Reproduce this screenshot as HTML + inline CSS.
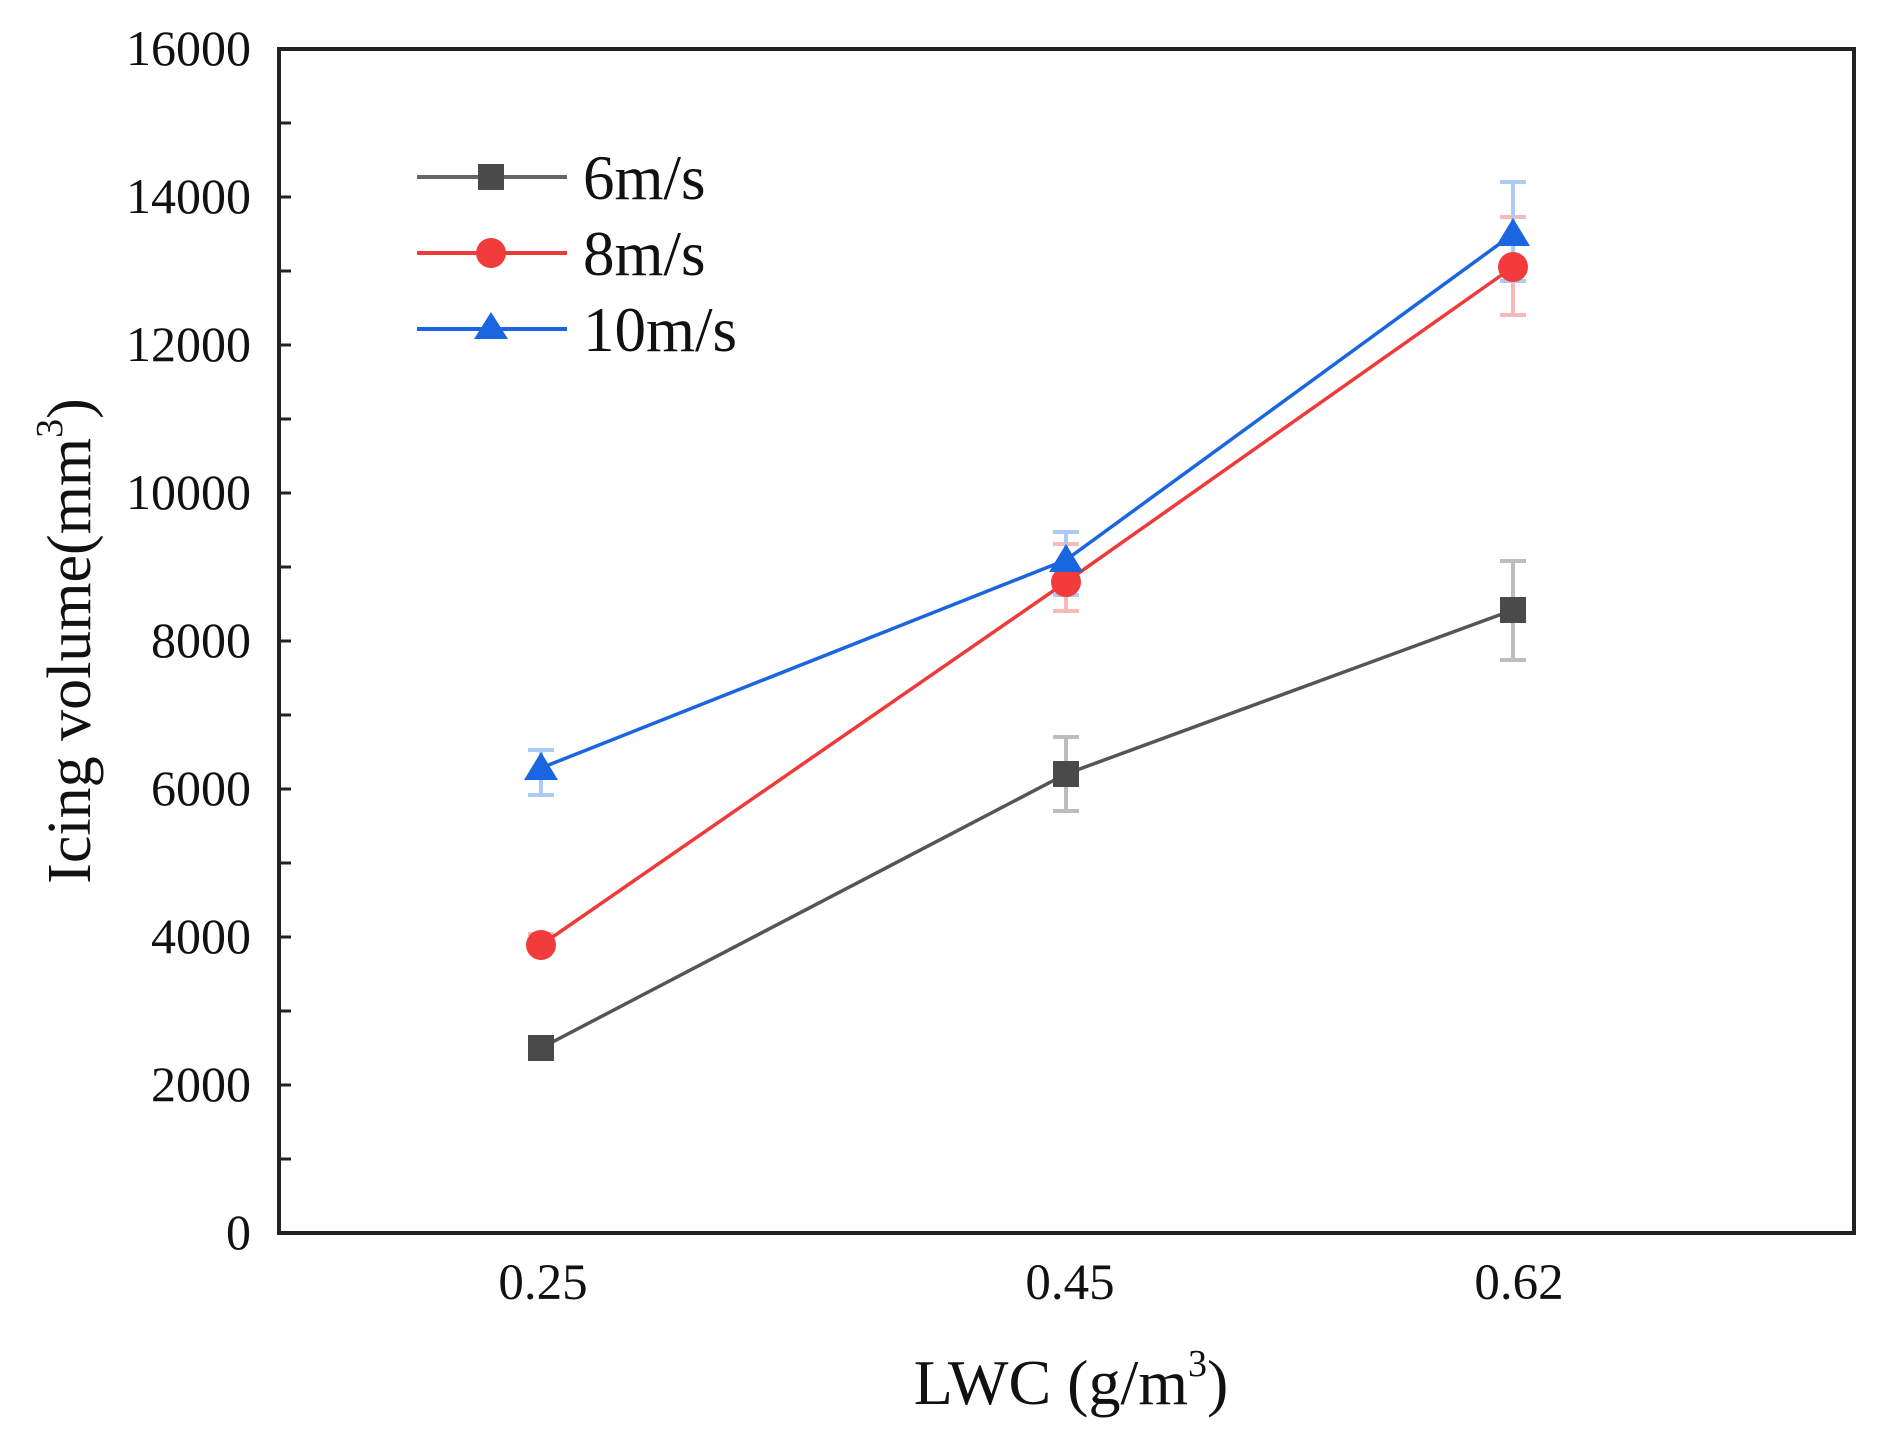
<!DOCTYPE html>
<html><head><meta charset="utf-8"><style>html,body{margin:0;padding:0;background:#fff}svg{display:block}</style></head>
<body>
<svg width="1894" height="1445" viewBox="0 0 1894 1445" xmlns="http://www.w3.org/2000/svg" font-family="Liberation Serif, serif">
<rect width="1894" height="1445" fill="#fff"/>
<rect x="279" y="49" width="1575" height="1184" fill="none" stroke="#222" stroke-width="4"/>
<g stroke="#222" stroke-width="3">
<line x1="279" y1="123" x2="291" y2="123"/><line x1="279" y1="197" x2="291" y2="197"/>
<line x1="279" y1="271" x2="291" y2="271"/><line x1="279" y1="345" x2="291" y2="345"/>
<line x1="279" y1="419" x2="291" y2="419"/><line x1="279" y1="493" x2="291" y2="493"/>
<line x1="279" y1="567" x2="291" y2="567"/><line x1="279" y1="641" x2="291" y2="641"/>
<line x1="279" y1="715" x2="291" y2="715"/><line x1="279" y1="789" x2="291" y2="789"/>
<line x1="279" y1="863" x2="291" y2="863"/><line x1="279" y1="937" x2="291" y2="937"/>
<line x1="279" y1="1011" x2="291" y2="1011"/><line x1="279" y1="1085" x2="291" y2="1085"/>
<line x1="279" y1="1159" x2="291" y2="1159"/>
</g>
<g font-size="50" fill="#111" text-anchor="end">
<text x="251" y="65">16000</text>
<text x="251" y="213">14000</text>
<text x="251" y="361">12000</text>
<text x="251" y="509">10000</text>
<text x="251" y="657">8000</text>
<text x="251" y="805">6000</text>
<text x="251" y="953">4000</text>
<text x="251" y="1101">2000</text>
<text x="251" y="1249">0</text>
</g>
<g font-size="51" fill="#111" text-anchor="middle">
<text x="543" y="1299">0.25</text>
<text x="1070" y="1299">0.45</text>
<text x="1519" y="1299">0.62</text>
</g>
<text x="1071" y="1404" font-size="64" text-anchor="middle" fill="#111">LWC (g/m<tspan font-size="38" dy="-28">3</tspan><tspan dy="28">)</tspan></text>
<text transform="translate(90,641) rotate(-90)" font-size="62" text-anchor="middle" fill="#111">Icing volume(mm<tspan font-size="38" dy="-28">3</tspan><tspan dy="28">)</tspan></text>
<g stroke-width="4" opacity="0.35">
<g stroke="#444">
<line x1="541" y1="1041" x2="541" y2="1055"/>
<line x1="1066" y1="737" x2="1066" y2="811"/><line x1="1053" y1="737" x2="1079" y2="737"/><line x1="1053" y1="811" x2="1079" y2="811"/>
<line x1="1513" y1="561" x2="1513" y2="660"/><line x1="1500" y1="561" x2="1526" y2="561"/><line x1="1500" y1="660" x2="1526" y2="660"/>
</g>
<g stroke="#f03a3a">
<line x1="541" y1="934" x2="541" y2="956"/><line x1="528" y1="934" x2="554" y2="934"/>
<line x1="1066" y1="544" x2="1066" y2="611"/><line x1="1053" y1="544" x2="1079" y2="544"/><line x1="1053" y1="611" x2="1079" y2="611"/>
<line x1="1513" y1="217" x2="1513" y2="315"/><line x1="1500" y1="217" x2="1526" y2="217"/><line x1="1500" y1="315" x2="1526" y2="315"/>
</g>
<g stroke="#1a66e0">
<line x1="541" y1="750" x2="541" y2="795"/><line x1="528" y1="750" x2="554" y2="750"/><line x1="528" y1="795" x2="554" y2="795"/>
<line x1="1066" y1="532" x2="1066" y2="595"/><line x1="1053" y1="532" x2="1079" y2="532"/><line x1="1053" y1="595" x2="1079" y2="595"/>
<line x1="1513" y1="182" x2="1513" y2="281"/><line x1="1500" y1="182" x2="1526" y2="182"/><line x1="1500" y1="281" x2="1526" y2="281"/>
</g>
</g>
<polyline points="541,1048 1066,774 1513,610" fill="none" stroke="#555" stroke-width="3.5"/>
<polyline points="541,945 1066,582 1513,267" fill="none" stroke="#f03a3a" stroke-width="3.5"/>
<polyline points="541,768 1066,560 1513,234" fill="none" stroke="#1a66e0" stroke-width="3.5"/>
<g fill="#4a4a4a">
<rect x="528" y="1035" width="26" height="26"/>
<rect x="1053" y="761" width="26" height="26"/>
<rect x="1500" y="597" width="26" height="26"/>
</g>
<g fill="#f23c3c">
<circle cx="541" cy="945" r="15"/><circle cx="1066" cy="582" r="15"/><circle cx="1513" cy="267" r="15"/>
</g>
<g fill="#1a66e0">
<polygon points="541,752 558,780 524,780"/>
<polygon points="1066,544 1083,572 1049,572"/>
<polygon points="1513,218 1530,246 1496,246"/>
</g>
<line x1="417" y1="177" x2="567" y2="177" stroke="#666" stroke-width="4"/>
<rect x="478" y="164" width="26" height="26" fill="#4a4a4a"/>
<line x1="417" y1="253" x2="567" y2="253" stroke="#f03a3a" stroke-width="4"/>
<circle cx="491" cy="253" r="15" fill="#f23c3c"/>
<line x1="417" y1="329" x2="567" y2="329" stroke="#1a66e0" stroke-width="4"/>
<polygon points="491,312 508,339 474,339" fill="#1a66e0"/>
<g font-size="63" fill="#111">
<text x="583" y="199">6m/s</text>
<text x="583" y="275">8m/s</text>
<text x="583" y="351">10m/s</text>
</g>
</svg>
</body></html>
